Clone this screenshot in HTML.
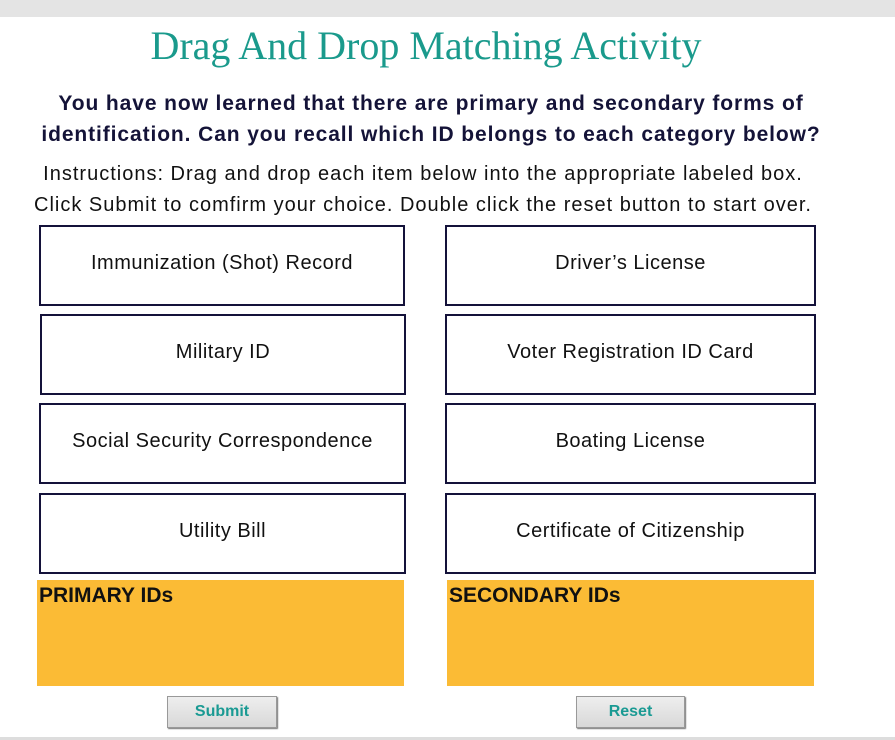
<!DOCTYPE html>
<html><head><style>
body{margin:0;width:895px;height:740px;background:#fff;position:relative;overflow:hidden;font-family:"Liberation Sans",sans-serif}
.a{position:absolute}
.bx{position:absolute;border:2px solid #14123a;box-sizing:border-box;display:flex;align-items:center;justify-content:center;font-size:20px;letter-spacing:0.5px;color:#111;padding-bottom:4px}
.or{position:absolute;background:#fbbb35;font-weight:bold;font-size:21px;color:#111;padding:4px 2px;box-sizing:border-box}
.btn{position:absolute;background:linear-gradient(#eee,#d8d8d8);border:1px solid #999;box-shadow:1px 1px 1px #777;box-sizing:border-box;color:#1a9a93;font-weight:bold;font-size:16px;display:flex;align-items:center;justify-content:center}
</style></head><body>
<div class="a" style="left:0;top:0;width:895px;height:17px;background:#e4e4e4"></div>
<div class="a" style="left:0;top:737px;width:895px;height:3px;background:#ddd"></div>
<div class="a" style="left:0;width:852px;top:22px;text-align:center;font-family:'Liberation Serif',serif;font-size:40px;color:#1a9a8c">Drag And Drop Matching Activity</div>
<div class="a" style="left:0;width:862px;top:88px;text-align:center;font-weight:bold;font-size:21px;line-height:31px;color:#141338;letter-spacing:0.9px">You have now learned that there are primary and secondary forms of<br>identification. Can you recall which ID belongs to each category below?</div>
<div class="a" style="left:0;width:846px;top:159px;text-align:center;font-size:20px;line-height:31px;color:#111;letter-spacing:1.0px">Instructions: Drag and drop each item below into the appropriate labeled box.<br>Click Submit to comfirm your choice. Double click the reset button to start over.</div>
<div class="bx" style="left:39px;top:225px;width:366px;height:81px">Immunization (Shot) Record</div>
<div class="bx" style="left:40px;top:314px;width:366px;height:81px">Military ID</div>
<div class="bx" style="left:39px;top:403px;width:367px;height:81px">Social Security Correspondence</div>
<div class="bx" style="left:39px;top:493px;width:367px;height:81px">Utility Bill</div>
<div class="bx" style="left:445px;top:225px;width:371px;height:81px">Driver’s License</div>
<div class="bx" style="left:445px;top:314px;width:371px;height:81px">Voter Registration ID Card</div>
<div class="bx" style="left:445px;top:403px;width:371px;height:81px">Boating License</div>
<div class="bx" style="left:445px;top:493px;width:371px;height:81px">Certificate of Citizenship</div>
<div class="or" style="left:37px;top:580px;width:367px;height:106px">PRIMARY IDs</div>
<div class="or" style="left:447px;top:580px;width:367px;height:106px">SECONDARY IDs</div>
<div class="btn" style="left:167px;top:696px;width:110px;height:32px">Submit</div>
<div class="btn" style="left:576px;top:696px;width:109px;height:32px">Reset</div>
</body></html>
